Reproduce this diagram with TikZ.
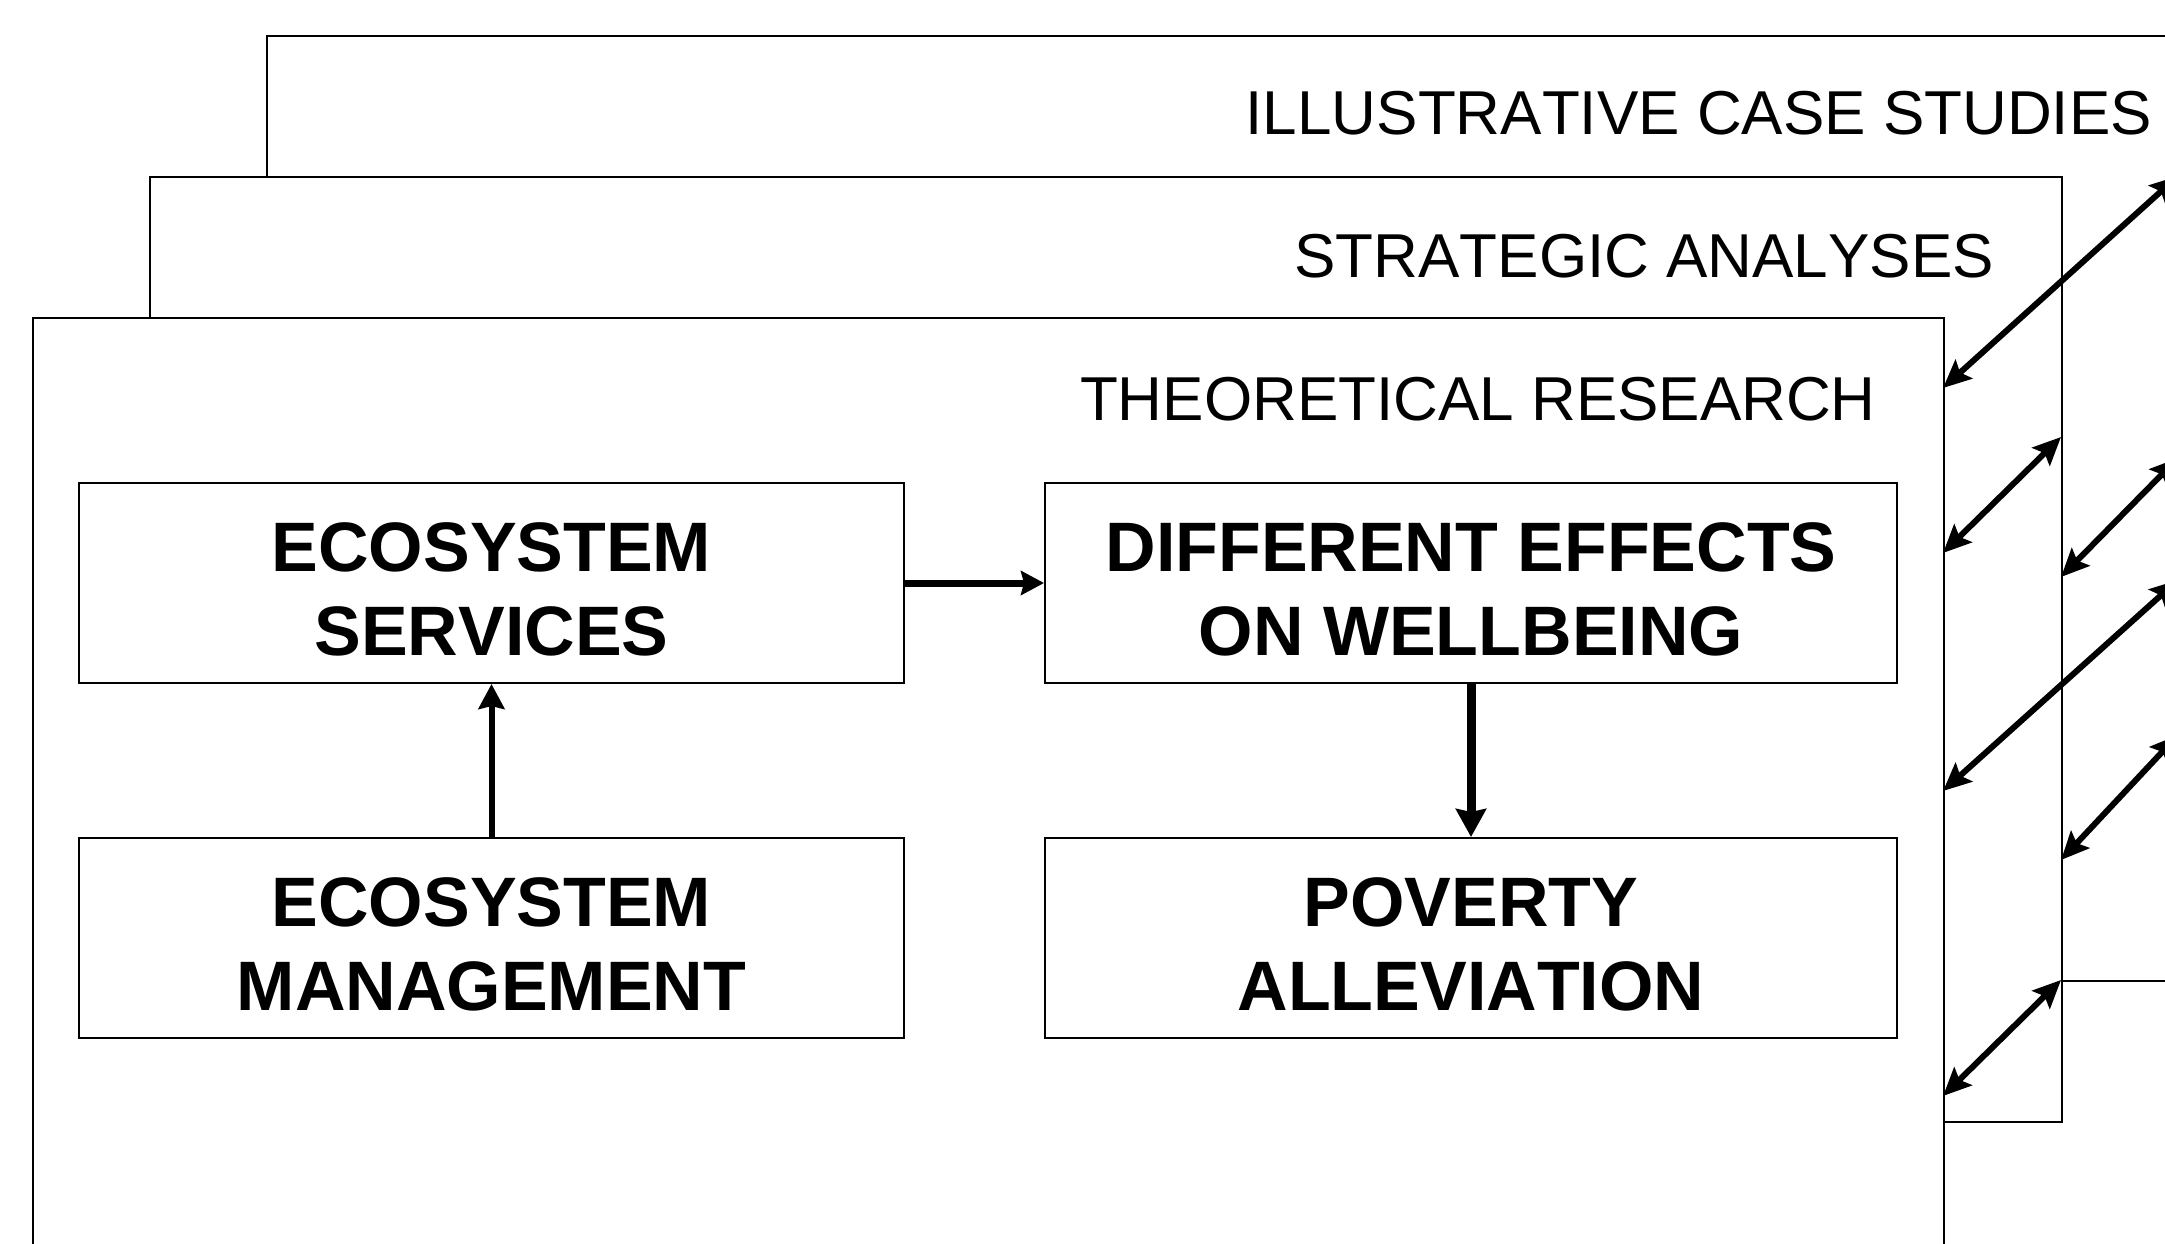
\documentclass[tikz,border=0pt]{standalone}
\usepackage{fontspec}
\setmainfont[Kerning=Off]{Liberation Sans}
\usetikzlibrary{arrows.meta}
% strut that lowers the two-line box texts a little
\newcommand\boxlift{\rule{0pt}{62pt}}
\begin{document}
\begin{tikzpicture}[x=1pt,y=-1pt,
  panel/.style={draw, line width=2pt, fill=white, anchor=north west,
    minimum width=1912pt, minimum height=945pt, inner sep=0pt},
  paneltitle/.style={anchor=base east, inner sep=0pt,
    font=\fontsize{62}{72}\selectfont},
  box/.style={draw, line width=2pt, fill=white, minimum width=825pt,
    minimum height=200pt, inner sep=0pt, align=center,
    font=\bfseries\fontsize{70}{84}\selectfont},
  link/.style={line width=6pt,
    {Stealth[length=28pt,width=25pt,inset=5pt]}-{Stealth[length=28pt,width=25pt,inset=5pt]}},
  flowa/.style={line width=7pt, -{Stealth[length=23pt,width=24pt,inset=3pt]}},
  flowb/.style={line width=6pt, -{Stealth[length=25pt,width=26pt,inset=3pt]}},
  flowc/.style={line width=9pt, -{Stealth[length=28pt,width=30pt,inset=3pt]}},
]
\useasboundingbox (0,0) rectangle (2165,1244);
\clip (0,0) rectangle (2165,1244);

% three stacked research layers
\node[panel] (back) at (266,35) {};
\node[paneltitle] (tback) at (2152,135) {ILLUSTRATIVE CASE STUDIES};
\node[panel] (mid) at (149,176) {};
\node[paneltitle] (tmid) at (1994,277) {STRATEGIC ANALYSES};
\node[panel, minimum width=1911pt] (front) at (32,317) {};
\node[paneltitle] (tfront) at (1876,420) {THEORETICAL RESEARCH};

% conceptual chain
\node[box] (es) at (491.5,583) {\boxlift ECOSYSTEM\\SERVICES};
\node[box] (em) at (491.5,938) {\boxlift ECOSYSTEM\\MANAGEMENT};
\node[box, minimum width=852pt] (de) at (1471,583) {\boxlift DIFFERENT EFFECTS\\ON WELLBEING};
\node[box, minimum width=852pt] (pa) at (1471,938) {\boxlift POVERTY\\ALLEVIATION};

\draw[flowa] (es.east) -- (de.west);
\draw[flowb] (em.north) -- (es.south);
\draw[flowc] (de.south) -- (pa.north);

% exchanges between the layers
\coordinate (f1) at (1943,388);  \coordinate (b1) at (2178,176);
\coordinate (f2) at (1943,553);  \coordinate (m2) at (2061,437);
\coordinate (m3) at (2061,577);  \coordinate (b3) at (2178,458);
\coordinate (f4) at (1943,791);  \coordinate (b4) at (2178,580);
\coordinate (m5) at (2061,860);  \coordinate (b5) at (2178,735);
\coordinate (f6) at (1943,1096); \coordinate (m6) at (2061,980);

\draw[link] (f1) -- (b1);
\draw[link] (f2) -- (m2);
\draw[link] (m3) -- (b3);
\draw[link] (f4) -- (b4);
\draw[link] (m5) -- (b5);
\draw[link] (f6) -- (m6);
\end{tikzpicture}
\end{document}
